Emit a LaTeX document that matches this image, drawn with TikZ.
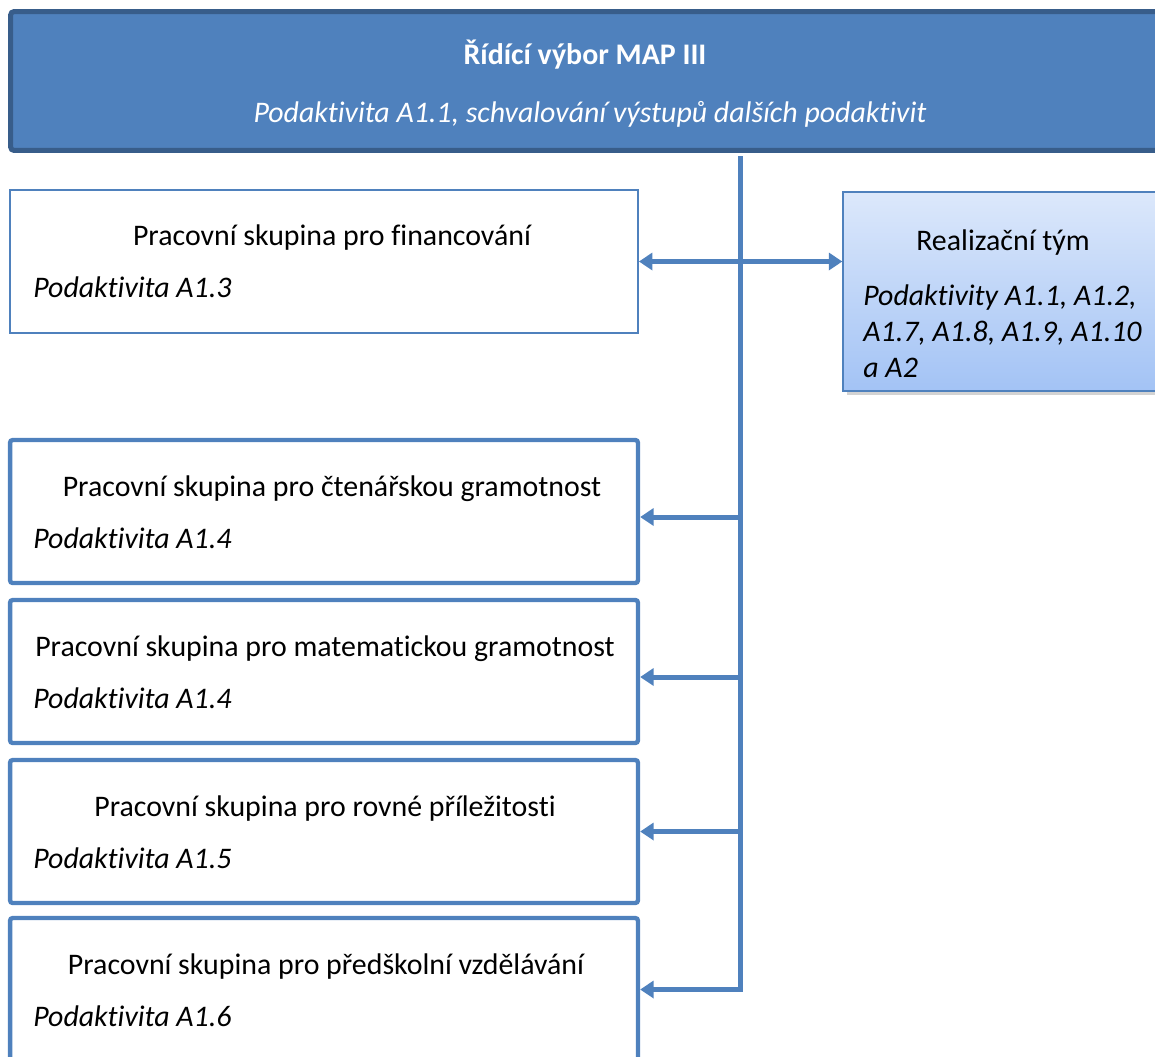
\documentclass[tikz,border=0pt]{standalone}
\usepackage{fontspec}
\setmainfont[Ligatures=NoCommon]{Carlito}
\usetikzlibrary{arrows.meta,shadows}

\definecolor{ofblue}{HTML}{4F81BD}
\definecolor{ofdark}{HTML}{385D8A}
\definecolor{rttop}{HTML}{DCE8FB}
\definecolor{rtbot}{HTML}{A3C3F5}
\newcommand{\boxfont}{\fontsize{17}{20.5}\selectfont}

\begin{document}
\begin{tikzpicture}[x=0.02cm,y=-0.02cm]
    \tikzstyle{txt}=[inner sep=0pt, font=\boxfont]
    \tikzstyle{sub}=[inner sep=0pt, anchor=base west, font=\boxfont\itshape]
    \tikzstyle{grp}=[draw=ofblue, line width=2.5pt, rounded corners=1.5pt, minimum width=12.56cm, minimum height=2.86cm, inner sep=0pt]
    \tikzstyle{conn}=[draw=ofblue, line width=2.85pt, -{Triangle[length=0.27cm,width=0.34cm]}]

    \useasboundingbox (0,0) rectangle (1155,1056);

    % steering committee
    \node[draw=ofdark, fill=ofblue, line width=2.85pt, rounded corners=2pt, minimum width=23.4cm, minimum height=2.78cm, inner sep=0pt] (ridici) at (595.5,81) {};
    \node[txt, anchor=base, text=white, font=\boxfont\bfseries] (ridname) at (585,64) {Řídící výbor MAP III};
    \node[txt, anchor=base, text=white, font=\boxfont\itshape] (ridsub) at (590,122) {Podaktivita A1.1, schvalování výstupů dalších podaktivit};

    % working groups
    \node[grp, line width=1.1pt, rounded corners=0pt] (fin) at (324,261.5) {};
    \node[txt, anchor=base] (finname) at (332,245) {Pracovní skupina pro financování};
    \node[sub] (finsub) at (33,297) {Podaktivita A1.3};

    \node[grp] (ctn) at (324,511.5) {};
    \node[txt, anchor=base] (ctnname) at (332,496) {Pracovní skupina pro čtenářskou gramotnost};
    \node[sub] (ctnsub) at (33,548) {Podaktivita A1.4};

    \node[grp] (mat) at (324,671.5) {};
    \node[txt, anchor=base] (matname) at (325,656) {Pracovní skupina pro matematickou gramotnost};
    \node[sub] (matsub) at (33,708) {Podaktivita A1.4};

    \node[grp] (rov) at (324,831.5) {};
    \node[txt, anchor=base] (rovname) at (325,816) {Pracovní skupina pro rovné příležitosti};
    \node[sub] (rovsub) at (33,868) {Podaktivita A1.5};

    \node[grp] (pre) at (324,989.5) {};
    \node[txt, anchor=base] (prename) at (326,974) {Pracovní skupina pro předškolní vzdělávání};
    \node[sub] (presub) at (33,1026) {Podaktivita A1.6};

    % implementation team
    \node[draw=ofblue, line width=0.8pt, top color=rttop, bottom color=rtbot, drop shadow={shadow xshift=2pt, shadow yshift=-2pt, opacity=0.35}, minimum width=6.4cm, minimum height=3.98cm, inner sep=0pt] (rt) at (1003,291.5) {};
    \node[txt, anchor=base] (rtname) at (1003,250) {Realizační tým};
    \node[txt, anchor=west, align=left, font=\boxfont\itshape] (rtsub) at (863,331) {Podaktivity A1.1, A1.2,\\A1.7, A1.8, A1.9, A1.10\\a A2};

    % connectors
    \coordinate (spine) at (740,156);
    \coordinate (ctnin) at ([yshift=-0.11cm]ctn.east);
    \coordinate (matin) at ([yshift=-0.11cm]mat.east);
    \draw[conn, {Triangle[length=0.27cm,width=0.34cm]}-{Triangle[length=0.27cm,width=0.34cm]}] (fin.east) -- (fin.east -| rt.west);
    \draw[conn] (spine) |- (pre.east);
    \draw[conn] (spine |- ctnin) -- (ctnin);
    \draw[conn] (spine |- matin) -- (matin);
    \draw[conn] (spine |- rov.east) -- (rov.east);
\end{tikzpicture}
\end{document}
